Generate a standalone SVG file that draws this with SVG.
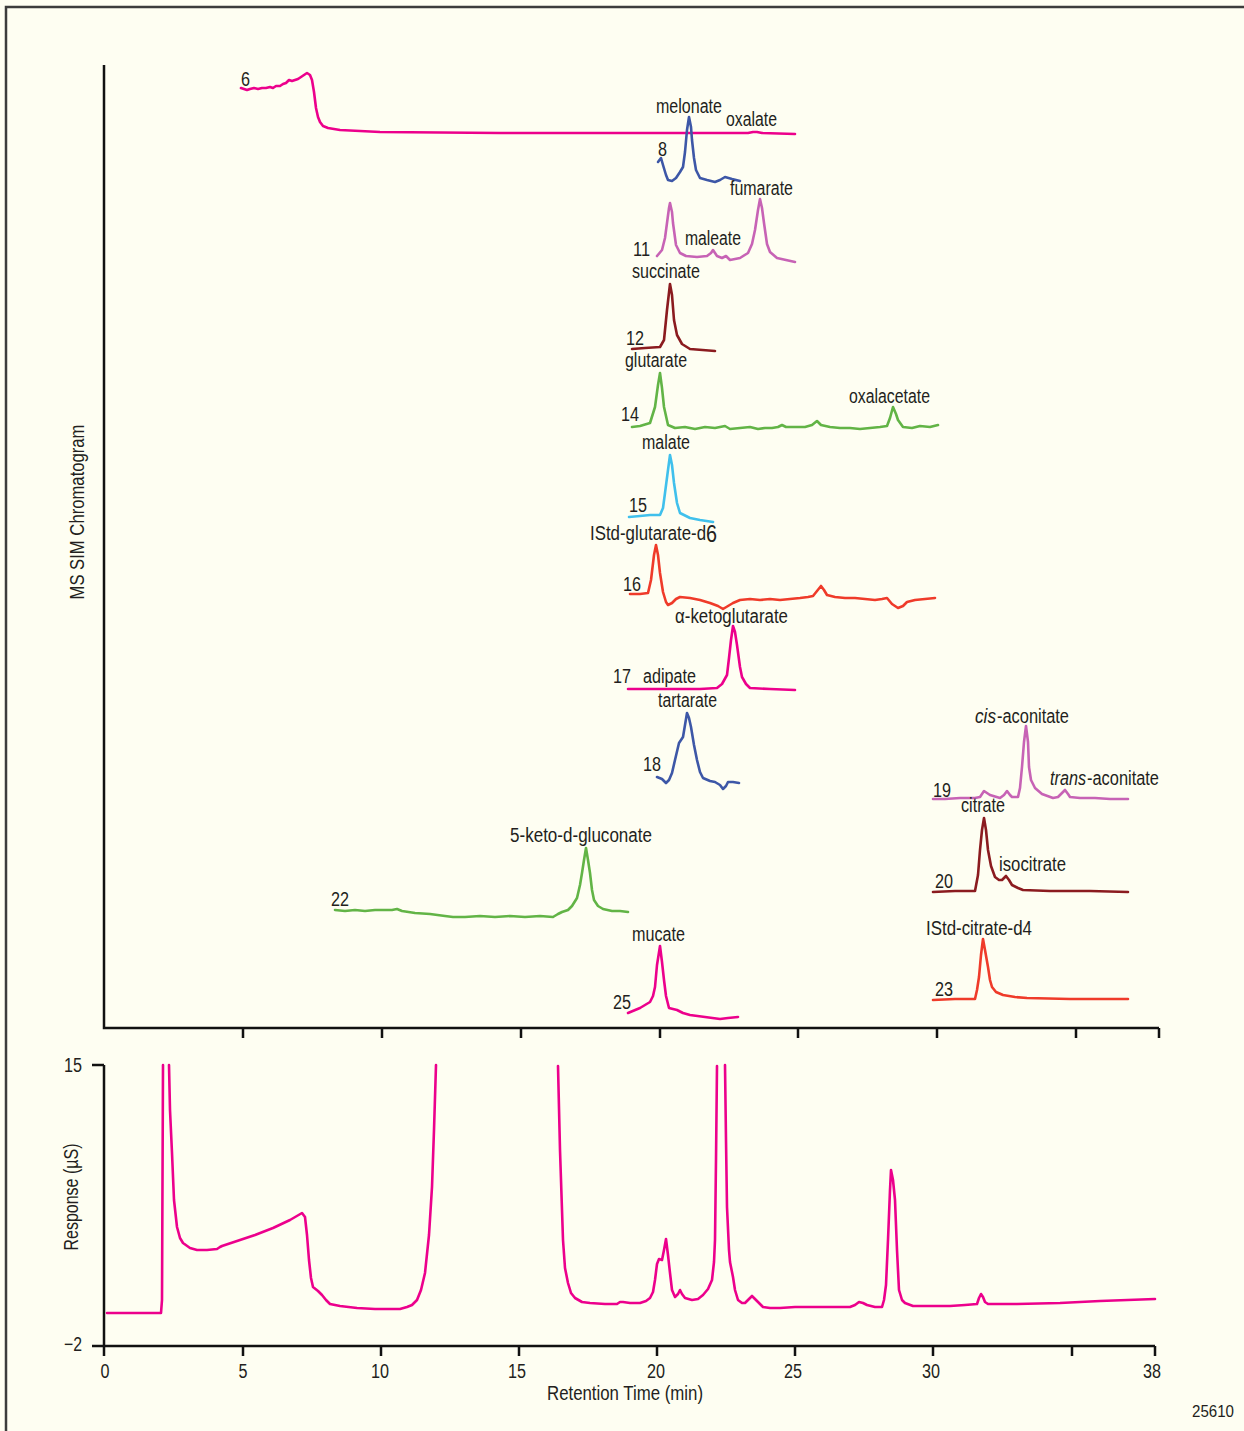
<svg xmlns="http://www.w3.org/2000/svg" width="1244" height="1431" viewBox="0 0 1244 1431">
<style>
text{font-family:"Liberation Sans",Arial,sans-serif;font-size:20px;fill:#231f20}
.ax{stroke:#111;stroke-width:2.5;fill:none}
.tr{fill:none;stroke-width:2.6;stroke-linejoin:round;stroke-linecap:round}
.mag{stroke:#ec008c}.blu{stroke:#3d57a7}.orc{stroke:#c763b5}.drd{stroke:#8b1b1f}.grn{stroke:#62b446}.cya{stroke:#40c0ec}.red{stroke:#ef3b2a}
</style>
<rect x="0" y="0" width="1244" height="1431" fill="#fefef2"/>
<path d="M6,1431 V7 H1244" fill="none" stroke="#3c3c3c" stroke-width="2.5"/>
<g id="axes">
<path class="ax" d="M104,65 V1028 H1159"/>
<path class="ax" d="M243,1028v10M382,1028v10M521,1028v10M660,1028v10M798,1028v10M937,1028v10M1076,1028v10M1159,1028v10"/>
<path class="ax" d="M104,1065 V1356 M92,1065 H104 M92,1346 H1155 M243,1346v10M381,1346v10M519,1346v10M657,1346v10M795,1346v10M933,1346v10M1072,1346v10M1155,1346v10"/>
<text transform="translate(84,512) rotate(-90)" text-anchor="middle" textLength="175" lengthAdjust="spacingAndGlyphs">MS SIM Chromatogram</text>
<text transform="translate(78,1197) rotate(-90)" text-anchor="middle" textLength="107" lengthAdjust="spacingAndGlyphs">Response (µS)</text>
<text x="64" y="1072" textLength="18" lengthAdjust="spacingAndGlyphs">15</text>
<text x="64" y="1351" textLength="18" lengthAdjust="spacingAndGlyphs">−2</text>
<g text-anchor="middle">
<text x="105" y="1378" textLength="9" lengthAdjust="spacingAndGlyphs">0</text><text x="243" y="1378" textLength="9" lengthAdjust="spacingAndGlyphs">5</text><text x="380" y="1378" textLength="18" lengthAdjust="spacingAndGlyphs">10</text><text x="517" y="1378" textLength="18" lengthAdjust="spacingAndGlyphs">15</text><text x="656" y="1378" textLength="18" lengthAdjust="spacingAndGlyphs">20</text><text x="793" y="1378" textLength="18" lengthAdjust="spacingAndGlyphs">25</text><text x="931" y="1378" textLength="18" lengthAdjust="spacingAndGlyphs">30</text><text x="1152" y="1378" textLength="18" lengthAdjust="spacingAndGlyphs">38</text>
<text x="625" y="1400" textLength="156" lengthAdjust="spacingAndGlyphs">Retention Time (min)</text>
</g>
<text x="1192" y="1417" style="font-size:17px" textLength="42" lengthAdjust="spacingAndGlyphs">25610</text>
</g>
<g id="connectors"></g>
<g id="trace6">
<path class="tr mag" d="M241,88 L244,89 247,90 250,89 254,88 258,89 262,88 266,88 270,87 273,88 276,86 280,86 283,84 286,83 289,80 292,81 295,80 298,79 301,77 304,75 307,73 310,75 312,80 314,92 316,108 318,117 320,122 323,126 328,128 340,130 380,132 500,133 700,133 748,133 753,132 757,132 762,133 795,134"/>
<text x="241" y="86" textLength="9" lengthAdjust="spacingAndGlyphs">6</text>
<text x="656" y="113" textLength="66" lengthAdjust="spacingAndGlyphs">melonate</text>
<text x="726" y="126" textLength="51" lengthAdjust="spacingAndGlyphs">oxalate</text>
</g>
<g id="trace8">
<path class="tr blu" d="M658,162 L661,158 663,165 666,175 668,180 672,181 676,178 680,172 683,167 685,152 687,130 689,117 691,127 692,140 694,158 696,170 700,178 707,180 715,182 720,180 725,177 732,179 740,181"/>
<text x="658" y="156" textLength="9" lengthAdjust="spacingAndGlyphs">8</text>
<text x="730" y="195" textLength="63" lengthAdjust="spacingAndGlyphs">fumarate</text>
</g>
<g id="trace11">
<path class="tr orc" d="M657,256 L662,250 665,238 667,223 669,208 670,203 672,212 673,223 676,245 680,253 686,256 697,257 707,256 711,253 713,250 715,253 717,256 722,258 726,256 730,260 740,258 748,253 752,244 755,230 758,210 760,199 762,208 764,223 767,244 770,252 777,258 795,262"/>
<text x="633" y="256" textLength="17" lengthAdjust="spacingAndGlyphs">11</text>
<text x="685" y="245" textLength="56" lengthAdjust="spacingAndGlyphs">maleate</text>
<text x="632" y="278" textLength="68" lengthAdjust="spacingAndGlyphs">succinate</text>
</g>
<g id="trace12">
<path class="tr drd" d="M632,349 L645,348 660,347 664,340 667,310 670,284 672,295 674,320 677,335 682,344 690,349 715,351"/>
<text x="626" y="345" textLength="18" lengthAdjust="spacingAndGlyphs">12</text>
<text x="625" y="367" textLength="62" lengthAdjust="spacingAndGlyphs">glutarate</text>
</g>
<g id="trace14">
<path class="tr grn" d="M632,427 L640,426 650,423 655,407 658,385 660,373 662,388 664,407 668,425 675,428 685,427 695,429 705,427 715,428 725,426 730,429 740,428 750,427 758,429 765,428 772,428 778,427 782,425 786,427 795,427 805,427 812,425 817,421 821,425 830,427 840,428 850,428 860,429 870,428 880,427 887,426 890,418 893,407 896,414 898,420 903,427 912,428 920,426 930,427 938,425"/>
<text x="621" y="421" textLength="18" lengthAdjust="spacingAndGlyphs">14</text>
<text x="849" y="403" textLength="81" lengthAdjust="spacingAndGlyphs">oxalacetate</text>
</g>
<g id="trace15">
<path class="tr cya" d="M629,517 L640,516 650,515 660,515 663,508 665,493 668,470 670,455 672,465 674,483 677,503 680,513 690,518 700,520 713,522"/>
<text x="629" y="512" textLength="18" lengthAdjust="spacingAndGlyphs">15</text>
<text x="642" y="449" textLength="48" lengthAdjust="spacingAndGlyphs">malate</text>
</g>
<g id="trace16">
<path class="tr red" d="M630,594 L640,594 648,593 651,580 654,555 656,545 658,555 660,573 663,592 666,602 668,605 672,603 676,599 680,597 690,598 700,600 710,603 718,606 723,609 728,606 733,603 740,600 750,599 760,600 770,599 780,600 790,599 800,598 808,597 813,596 817,591 821,586 824,590 827,595 835,597 845,598 855,598 865,599 875,600 882,599 887,598 892,604 898,608 903,606 907,602 915,600 925,599 935,598"/>
<text x="623" y="591" textLength="18" lengthAdjust="spacingAndGlyphs">16</text>
<text x="590" y="540" textLength="116" lengthAdjust="spacingAndGlyphs">IStd-glutarate-d</text>
<text x="706" y="542" style="font-size:23px" textLength="11" lengthAdjust="spacingAndGlyphs">6</text>
</g>
<g id="trace17">
<path class="tr mag" d="M628,689 L650,689 680,689 700,689 717,688 722,684 727,675 729,658 731,640 733,626 735,632 737,645 740,667 742,677 746,684 750,688 770,689 795,690"/>
<text x="613" y="683" textLength="18" lengthAdjust="spacingAndGlyphs">17</text>
<text x="643" y="683" textLength="53" lengthAdjust="spacingAndGlyphs">adipate</text>
<text x="675" y="623" textLength="113" lengthAdjust="spacingAndGlyphs">α-ketoglutarate</text>
</g>
<g id="trace18">
<path class="tr blu" d="M657,777 L662,779 666,783 669,780 672,773 675,760 679,743 683,737 685,725 687,713 689,718 691,727 694,745 697,760 700,772 703,778 710,781 715,782 720,785 723,789 726,786 728,782 733,782 739,783"/>
<text x="643" y="771" textLength="18" lengthAdjust="spacingAndGlyphs">18</text>
<text x="658" y="707" textLength="59" lengthAdjust="spacingAndGlyphs">tartarate</text>
</g>
<g id="trace19">
<path class="tr orc" d="M933,799 L945,799 960,798 975,798 980,797 984,791 987,793 990,795 1000,798 1004,795 1007,791 1010,795 1012,797 1018,797 1020,788 1022,767 1024,742 1026,726 1028,742 1029,767 1031,780 1035,788 1042,794 1053,798 1058,797 1061,794 1065,790 1068,794 1070,797 1080,798 1095,798 1110,799 1128,799"/>
<text x="933" y="797" textLength="18" lengthAdjust="spacingAndGlyphs">19</text>
<text x="975" y="723" font-style="italic" textLength="21" lengthAdjust="spacingAndGlyphs">cis</text>
<text x="997" y="723" textLength="72" lengthAdjust="spacingAndGlyphs">-aconitate</text>
<text x="1050" y="785" font-style="italic" textLength="36" lengthAdjust="spacingAndGlyphs">trans</text>
<text x="1087" y="785" textLength="72" lengthAdjust="spacingAndGlyphs">-aconitate</text>
<text x="961" y="812" textLength="44" lengthAdjust="spacingAndGlyphs">citrate</text>
</g>
<g id="trace20">
<path class="tr drd" d="M933,892 L955,891 975,891 978,875 980,850 982,830 984,818 986,830 988,850 991,866 995,877 999,880 1002,880 1006,876 1009,880 1012,885 1018,888 1023,890 1050,891 1090,891 1128,892"/>
<text x="935" y="888" textLength="18" lengthAdjust="spacingAndGlyphs">20</text>
<text x="999" y="871" textLength="67" lengthAdjust="spacingAndGlyphs">isocitrate</text>
</g>
<g id="trace23">
<path class="tr red" d="M933,1000 L955,999 975,999 977,990 979,977 981,955 983,939 985,950 988,967 990,980 992,987 996,992 1003,995 1015,997 1027,998 1070,999 1128,999"/>
<text x="935" y="996" textLength="18" lengthAdjust="spacingAndGlyphs">23</text>
<text x="926" y="935" textLength="106" lengthAdjust="spacingAndGlyphs">IStd-citrate-d4</text>
</g>
<g id="trace22">
<path class="tr grn" d="M335,910 L345,911 355,910 365,911 375,910 385,910 392,910 397,909 402,911 415,913 430,914 445,916 453,917 465,917 480,916 495,917 510,916 525,917 540,916 553,917 558,914 562,912 568,910 572,906 577,898 580,885 582,873 584,860 586,848 588,860 590,873 592,890 594,900 598,906 603,909 612,911 620,911 628,912"/>
<text x="331" y="906" textLength="18" lengthAdjust="spacingAndGlyphs">22</text>
<text x="510" y="842" textLength="142" lengthAdjust="spacingAndGlyphs">5-keto-d-gluconate</text>
</g>
<g id="trace25">
<path class="tr mag" d="M628,1013 L640,1008 650,1002 653,996 655,987 657,965 660,946 662,962 664,980 666,996 669,1008 677,1010 683,1013 690,1015 705,1017 720,1019 728,1018 738,1017"/>
<text x="613" y="1009" textLength="18" lengthAdjust="spacingAndGlyphs">25</text>
<text x="632" y="941" textLength="53" lengthAdjust="spacingAndGlyphs">mucate</text>
</g>
<g id="conductivity">
<path class="tr mag" d="M107,1313 L161,1313 162,1300 163,1065"/>
<path class="tr mag" d="M169,1065 L170,1110 172,1153 174,1200 177,1227 180,1238 183,1243 190,1248 197,1250 207,1250 217,1249 220,1247 222,1246 240,1240 255,1235 273,1228 290,1220 302,1213 305,1217 307,1235 309,1260 311,1278 313,1287 318,1291 322,1295 326,1300 330,1304 340,1306 357,1308 375,1309 390,1309 400,1309 407,1307 412,1305 417,1300 421,1290 425,1273 429,1235 432,1187 434,1130 436,1065"/>
<path class="tr mag" d="M558,1066 L560,1150 563,1240 565,1268 568,1283 571,1293 575,1298 582,1302 590,1303 605,1304 617,1304 620,1302 623,1302 630,1303 640,1303 646,1301 650,1298 653,1292 655,1280 657,1264 659,1259 662,1260 664,1250 666,1239 668,1255 670,1273 672,1290 675,1297 678,1294 680,1290 682,1294 685,1298 692,1300 698,1299 703,1295 708,1289 712,1280 714,1262 715,1240 716,1160 717,1066"/>
<path class="tr mag" d="M725,1065 L726,1140 727,1207 729,1250 730,1262 733,1277 735,1290 738,1300 742,1303 745,1303 749,1299 752,1296 755,1299 758,1302 763,1307 770,1308 780,1308 795,1307 807,1307 830,1307 850,1307 855,1305 859,1302 863,1303 867,1305 875,1307 882,1307 884,1300 886,1285 888,1240 890,1190 891,1170 893,1180 895,1200 897,1250 899,1290 902,1300 905,1303 913,1306 930,1306 950,1306 965,1305 977,1304 979,1298 981,1294 983,1297 985,1302 988,1304 1000,1304 1017,1304 1060,1303 1100,1301 1155,1299"/>
</g>
</svg>
